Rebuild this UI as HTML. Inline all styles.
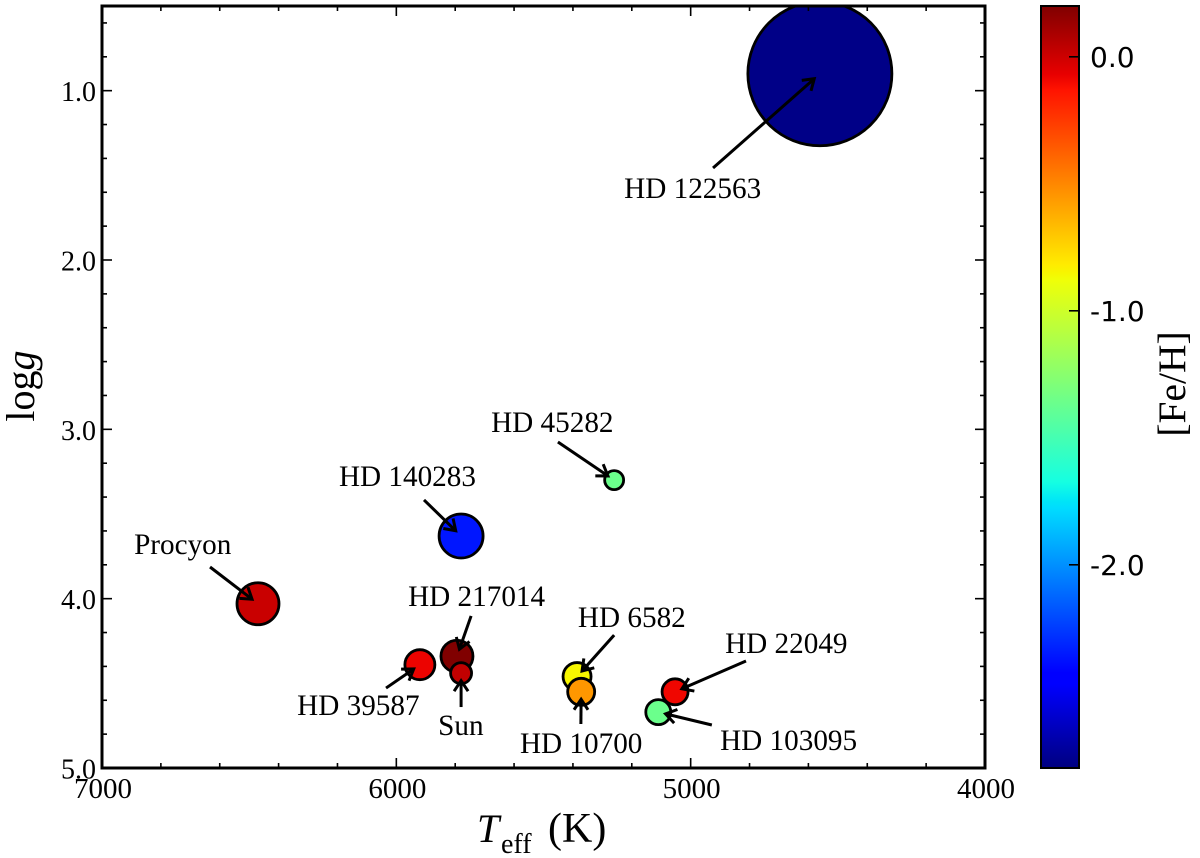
<!DOCTYPE html>
<html lang="en">
<head>
<meta charset="utf-8">
<title>Benchmark stars: Teff vs log g</title>
<style>
html,body{margin:0;padding:0;background:#fff;}
svg{display:block;}
text{font-family:"Liberation Serif",serif;fill:#000;}
</style>
</head>
<body>
<svg id="chart" xmlns="http://www.w3.org/2000/svg" width="1200" height="858" viewBox="0 0 1200 858">
  <defs>
    <clipPath id="plot-clip"><rect x="102" y="6" width="883" height="762"/></clipPath>
    <linearGradient id="jet-gradient" x1="0" y1="1" x2="0" y2="0"></linearGradient>
    <marker id="arrow-head" markerUnits="userSpaceOnUse" markerWidth="24" markerHeight="24" refX="18" refY="12" orient="auto">
      <path d="M7.5 5 L18 12 L7.5 19" fill="none" stroke="#000" stroke-width="3"/>
    </marker>
  </defs>
  <g id="stars" clip-path="url(#plot-clip)"></g>
  <g id="arrows"></g>
  <g id="labels"></g>
  <g id="axes"></g>
  <g id="colorbar"></g>

  <text transform="translate(34,386) rotate(-90)" text-anchor="middle" font-size="40">log<tspan font-style="italic">g</tspan></text>
  <text font-size="40"><tspan x="477" y="842" font-style="italic">T</tspan><tspan x="501" y="853" font-size="28">eff</tspan><tspan x="548" y="842" font-size="42">(K)</tspan></text>
  <text transform="translate(1185,384) rotate(-90)" text-anchor="middle" font-size="39.5">[Fe/H]</text>
</svg>

<script>
// Star data
const starNames = ["HD 122563","HD 140283","Procyon","HD 45282","HD 217014","Sun","HD 39587","HD 6582","HD 10700","HD 22049","HD 103095"];
const teffValues = [4561,5780,6470,5260,5794,5780,5920,5386,5372,5053,5110];
const loggValues = [0.90,3.63,4.03,3.30,4.34,4.44,4.39,4.46,4.55,4.55,4.67];
const fehValues = [-2.78,-2.36,0.01,-1.36,0.20,0.03,-0.08,-0.85,-0.55,-0.09,-1.36];
const sizeValues = [5184,484,441,90,256,110,225,196,182,169,156];
// Annotation anchors in data units (Teff, log g)
const arrowTailTeff = [4924,5906,6633,5451,5746,5780,6035,5260,5373,4812,4928];
const arrowTailLogg = [1.457,3.417,3.813,3.075,4.102,4.640,4.528,4.215,4.740,4.368,4.746];
const labelTeff = [5226,6195,6891,5678,5960,5858,6337,5383,5580,4883,4900];
const labelLogg = [1.634,3.335,3.736,3.016,4.043,4.805,4.687,4.167,4.911,4.321,4.894];
// Axis ticks
const xTickValues = [7000,6000,5000,4000];
const xTickLabels = ["7000","6000","5000","4000"];
const xMinorTicks = [6800,6600,6400,6200,5800,5600,5400,5200,4800,4600,4400,4200];
const yTickValues = [1,2,3,4,5];
const yTickLabels = ["1.0","2.0","3.0","4.0","5.0"];
const yMinorTicks = [0.6,0.8,1.2,1.4,1.6,1.8,2.2,2.4,2.6,2.8,3.2,3.4,3.6,3.8,4.2,4.4,4.6,4.8];
const cbarTickValues = [0,-1,-2];
const cbarTickLabels = ["0.0","-1.0","-2.0"];

const SVGNS = "http://www.w3.org/2000/svg";
const plot = {left:102,right:985,top:6,bottom:768};
const xDomain = [7000,4000];
const yDomain = [0.5,5.0];
const cDomain = [-2.8,0.2];
const sx = v => plot.left + (v-xDomain[0])/(xDomain[1]-xDomain[0])*(plot.right-plot.left);
const sy = v => plot.top + (v-yDomain[0])/(yDomain[1]-yDomain[0])*(plot.bottom-plot.top);
const sc = v => plot.bottom - (v-cDomain[0])/(cDomain[1]-cDomain[0])*(plot.bottom-plot.top);
const sr = s => Math.sqrt(s);

function interp(t,xs,ys){
  if(t<=xs[0]) return ys[0];
  for(let i=1;i<xs.length;i++){
    if(t<=xs[i]) return ys[i-1]+(ys[i]-ys[i-1])*(t-xs[i-1])/(xs[i]-xs[i-1]);
  }
  return ys[ys.length-1];
}
function jet(t){
  const r=interp(t,[0,0.35,0.66,0.89,1],[0,0,1,1,0.5]);
  const g=interp(t,[0,0.125,0.375,0.64,0.91,1],[0,0,1,1,0,0]);
  const b=interp(t,[0,0.11,0.34,0.65,1],[0.5,1,1,0,0]);
  return "rgb("+Math.round(r*255)+","+Math.round(g*255)+","+Math.round(b*255)+")";
}
const fehColor = v => jet((v-cDomain[0])/(cDomain[1]-cDomain[0]));

function make(tag,attrs,parent,text){
  const el=document.createElementNS(SVGNS,tag);
  for(const k in attrs) el.setAttribute(k,attrs[k]);
  if(text!==undefined) el.textContent=text;
  parent.appendChild(el);
  return el;
}
const slug = s => s.toLowerCase().replace(/\s+/g,"-");

// Gradient
const grad=document.getElementById("jet-gradient");
[0,0.11,0.125,0.34,0.35,0.375,0.64,0.65,0.66,0.89,0.91,1].forEach(function(t){
  make("stop",{offset:t,"stop-color":jet(t)},grad);
});

// Stars
const starsG=document.getElementById("stars");
const arrowsG=document.getElementById("arrows");
const labelsG=document.getElementById("labels");
starNames.forEach(function(name,i){
  const cx=sx(teffValues[i]), cy=sy(loggValues[i]);
  const c=make("circle",{cx:cx,cy:cy,r:sr(sizeValues[i]),fill:fehColor(fehValues[i]),stroke:"#000","stroke-width":2.8},starsG);
  
  

  const tx=sx(arrowTailTeff[i]), ty=sy(arrowTailLogg[i]);
  const d=Math.hypot(tx-cx,ty-cy);
  const shrink=7.5;
  const l=make("line",{x1:tx,y1:ty,x2:cx+(tx-cx)/d*shrink,y2:cy+(ty-cy)/d*shrink,stroke:"#000","stroke-width":3,"marker-end":"url(#arrow-head)"},arrowsG);
  
  

  const t=make("text",{x:sx(labelTeff[i]),y:sy(labelLogg[i]),"font-size":29.2},labelsG,name);
  
  
});

// Axes
const axesG=document.getElementById("axes");
function tick(x1,y1,x2,y2,w,name){
  const el=make("line",{x1:x1,y1:y1,x2:x2,y2:y2,stroke:"#000","stroke-width":w},axesG);
  
  
}
xTickValues.forEach(function(v,i){
  const x=sx(v);
  tick(x,plot.bottom,x,plot.bottom-10,1.6,'x-major-tick');
  tick(x,plot.top,x,plot.top+10,1.6,'x-major-tick-top');
  const t=make("text",{x:x+1,y:798,"text-anchor":"middle","font-size":29},axesG,xTickLabels[i]);
  
  
});
xMinorTicks.forEach(function(v){
  const x=sx(v);
  tick(x,plot.bottom,x,plot.bottom-5,1.6,'x-minor-tick');
  tick(x,plot.top,x,plot.top+5,1.6,'x-minor-tick-top');
});
yTickValues.forEach(function(v,i){
  const y=sy(v);
  tick(plot.left,y,plot.left+10,y,1.6,'y-major-tick');
  tick(plot.right,y,plot.right-10,y,1.6,'y-major-tick-right');
  const t=make("text",{x:96,y:y+10.5,"text-anchor":"end","font-size":28},axesG,yTickLabels[i]);
  
  
});
yMinorTicks.forEach(function(v){
  const y=sy(v);
  tick(plot.left,y,plot.left+5,y,1.6,'y-minor-tick');
  tick(plot.right,y,plot.right-5,y,1.6,'y-minor-tick-right');
});
const frame=make("rect",{x:plot.left,y:plot.top,width:plot.right-plot.left,height:plot.bottom-plot.top,fill:"none",stroke:"#000","stroke-width":3},axesG);



// Colorbar
const cbG=document.getElementById("colorbar");
const cbRect=make("rect",{x:1041,y:plot.top,width:38,height:plot.bottom-plot.top,fill:"url(#jet-gradient)"},cbG);


const cbFrame=make("rect",{x:1041,y:plot.top,width:38,height:plot.bottom-plot.top,fill:"none",stroke:"#000","stroke-width":2},cbG);


cbarTickValues.forEach(function(v,i){
  const y=sc(v);
  const l=make("line",{x1:1069,y1:y,x2:1079,y2:y,stroke:"#000","stroke-width":1.6},cbG);
  
  
  const t=make("text",{x:1090,y:y+10,"font-size":28,style:"font-family:'DejaVu Sans',sans-serif"},cbG,cbarTickLabels[i]);
  
  
});
</script>
</body>
</html>
